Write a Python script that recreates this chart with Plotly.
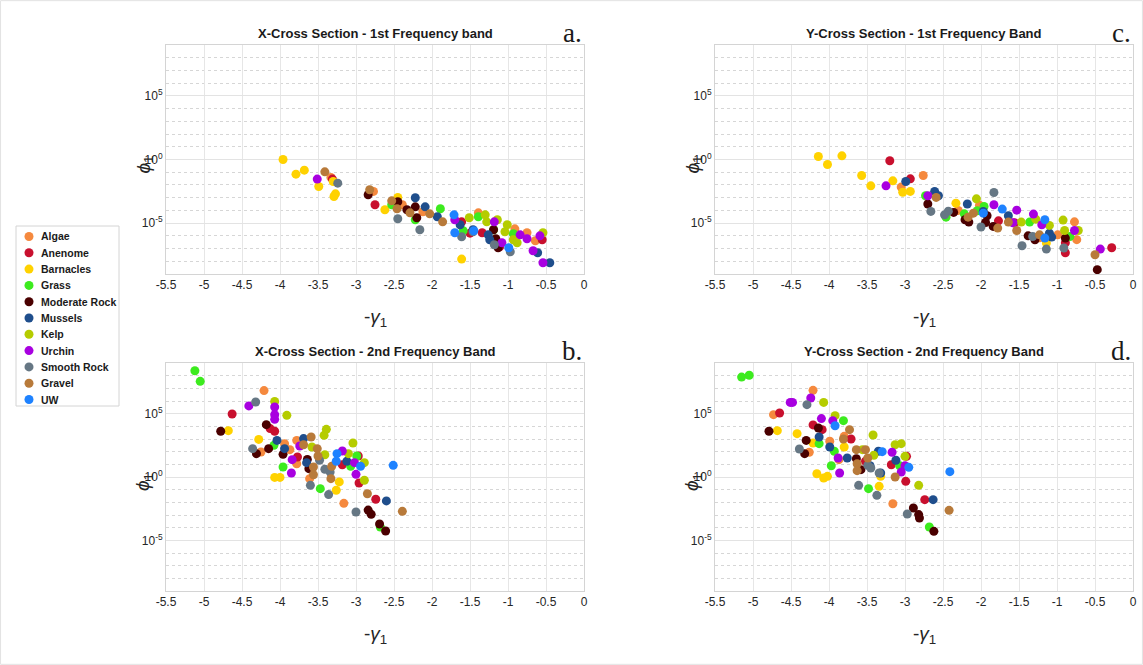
import plotly.graph_objects as go

CATEGORIES = ["Algae", "Anenome", "Barnacles", "Grass", "Moderate Rock", "Mussels",
              "Kelp", "Urchin", "Smooth Rock", "Gravel", "UW"]
COLORS = ["#F5893E", "#C8102E", "#FFD200", "#3CEB1E", "#4A0000", "#1F4E8C",
          "#B5CC00", "#A800E0", "#667784", "#B87A3A", "#1E82FF"]

XTICKS = [-5.5, -5, -4.5, -4, -3.5, -3, -2.5, -2, -1.5, -1, -0.5, 0]
XTICK_TEXT = ["-5.5", "-5", "-4.5", "-4", "-3.5", "-3", "-2.5", "-2", "-1.5", "-1", "-0.5", "0"]
YTICKS = [1e-5, 1, 1e5]
YTICK_TEXT = ["10<sup>-5</sup>", "10<sup>0</sup>", "10<sup>5</sup>"]
Y_DECADES = list(range(-9, 10))

TITLES = ["X-Cross Section - 1st Frequency band", "Y-Cross Section - 1st Frequency Band",
          "X-Cross Section - 2nd Frequency Band", "Y-Cross Section - 2nd Frequency Band"]
LETTERS = ["a.", "c.", "b.", "d."]

# -gamma_1 values (x) and log10(phi_1) values (y), per category, in CATEGORIES order
A_X = [[-3.33, -2.77, -2.39, -2.12, -1.39, -0.91, -0.75, -0.64],
       [-3.31, -2.75, -1.61, -1.50, -1.34, -1.11, -0.55],
       [-3.96, -3.79, -3.68, -3.49, -3.29, -3.27, -3.30, -2.62, -2.45, -1.61],
       [-2.53, -2.22, -1.89, -1.59, -1.39, -0.93, -1.19],
       [-2.84, -2.45, -2.33, -2.22, -2.20, -1.19, -1.16, -1.13],
       [-2.22, -2.09, -1.93, -1.63, -1.46, -1.26, -1.24, -0.61, -0.45],
       [-1.51, -1.30, -1.28, -1.14, -1.01, -1.04, -0.93, -0.88, -0.54],
       [-3.51, -1.70, -1.18, -1.08, -0.84, -0.75, -0.67, -0.58, -0.54],
       [-3.24, -2.45, -2.16, -1.61, -1.46, -1.18, -0.97],
       [-3.41, -2.82, -2.53, -2.46, -2.29, -2.03, -1.86],
       [-1.71, -1.70, -1.45, -0.99]]
A_LOGPHI = [[-1.41, -2.51, -3.56, -4.11, -4.19, -5.45, -5.76, -6.39],
            [-1.54, -3.56, -4.90, -5.79, -5.76, -6.86, -6.31],
            [0.0, -1.15, -0.84, -2.12, -2.91, -2.70, -1.73, -3.95, -2.98, -7.83],
            [-3.56, -4.74, -3.87, -5.60, -4.50, -5.84, -5.52],
            [-2.77, -3.32, -3.95, -3.72, -4.58, -5.52, -6.23, -6.94],
            [-3.01, -3.72, -4.50, -5.13, -5.52, -5.92, -6.31, -7.33, -8.12],
            [-4.58, -4.35, -4.90, -4.74, -5.13, -5.68, -6.31, -6.54, -5.76],
            [-1.54, -4.74, -4.90, -6.54, -5.92, -6.23, -7.17, -6.00, -8.12],
            [-1.86, -4.66, -5.52, -6.07, -5.68, -6.70, -7.25],
            [-0.97, -2.38, -3.25, -3.87, -4.19, -4.27, -4.90],
            [-4.35, -5.76, -5.60, -6.94]]

C_X = [[-2.76, -3.05, -2.30, -2.02, -0.77, -0.74, -0.99, -1.23],
       [-3.20, -2.93, -1.77, -1.56, -0.89, -0.89, -0.28],
       [-4.14, -4.02, -3.83, -3.57, -3.45, -3.16, -3.03, -2.93, -2.33, -1.14],
       [-2.73, -2.46, -2.22, -2.05, -1.96, -1.36, -0.83],
       [-2.70, -2.36, -2.21, -2.16, -1.94, -1.92, -1.84, -1.38, -1.29, -0.89, -0.47],
       [-2.99, -2.61, -2.56, -2.18, -1.97, -1.64, -1.10, -1.07],
       [-2.06, -1.47, -1.28, -1.10, -0.92, -0.90, -0.72],
       [-3.25, -2.70, -1.83, -1.53, -1.31, -1.20, -0.77, -0.43, -1.58],
       [-2.66, -2.43, -2.48, -1.83, -2.00, -1.46, -1.32, -1.14, -0.91],
       [-2.59, -2.17, -2.10, -1.78, -1.64, -1.53, -1.23, -0.50],
       [-1.97, -1.72, -1.16, -1.16]]
C_LOGPHI = [[-1.26, -2.17, -4.00, -3.60, -4.90, -6.30, -5.92, -6.15],
            [-0.10, -1.52, -4.82, -4.97, -6.54, -7.33, -6.94],
            [0.24, -0.39, 0.29, -1.26, -2.07, -1.68, -2.57, -2.51, -3.43, -6.57],
            [-2.85, -4.53, -4.27, -4.03, -3.69, -4.92, -6.05],
            [-3.50, -4.16, -4.74, -4.92, -4.95, -4.42, -5.26, -6.00, -6.31, -6.18, -8.66],
            [-1.73, -2.51, -2.85, -3.50, -4.08, -4.42, -5.79, -6.10],
            [-3.09, -4.92, -4.69, -5.18, -4.76, -5.58, -5.58],
            [-2.07, -2.85, -3.56, -3.98, -4.29, -5.13, -5.58, -7.04, -4.97],
            [-4.08, -4.06, -4.35, -2.59, -5.31, -6.78, -6.05, -7.04, -6.96],
            [-2.98, -4.53, -4.22, -5.39, -4.92, -5.58, -5.92, -7.49],
            [-4.22, -3.90, -4.74, -6.18]]

B_X = [[-4.21, -4.25, -3.94, -3.78, -3.78, -3.61, -3.16, -3.87],
       [-4.63, -4.13, -4.07, -3.77, -3.18, -2.96, -2.74, -2.97],
       [-4.68, -4.28, -4.07, -4.00, -3.22, -3.26],
       [-5.12, -5.05, -3.96, -4.08, -3.47, -3.07, -2.99, -2.68],
       [-4.78, -4.31, -4.18, -4.15, -3.96, -3.64, -3.62, -2.84, -2.80, -2.69, -2.61],
       [-4.04, -3.94, -3.69, -3.65, -3.12, -2.60],
       [-4.07, -3.91, -3.39, -3.42, -3.58, -3.41, -3.04, -3.10, -2.89, -2.89],
       [-4.41, -4.07, -4.07, -4.07, -3.84, -3.85, -3.74, -3.18, -3.02, -3.00],
       [-4.32, -4.36, -3.60, -3.48, -3.41, -3.36, -3.34, -3.00],
       [-3.59, -3.69, -3.51, -3.50, -3.56, -3.56, -3.32, -3.33, -2.85, -2.39],
       [-3.25, -3.26, -2.94, -2.51]]
B_LOGPHI = [[6.82, 1.97, 2.63, 2.89, 1.05, -0.13, -2.08, 2.16],
            [4.97, 3.82, 3.61, 1.58, 0.97, -0.47, -1.76, 1.66],
            [3.66, 2.97, -0.03, -0.03, -0.39, -1.05],
            [8.39, 7.55, 0.79, 2.50, -0.92, 0.84, 1.66, -3.95],
            [3.61, 1.84, 4.13, 2.24, 1.79, 1.39, 0.66, -2.61, -2.95, -3.71, -4.26],
            [2.89, 2.24, 3.03, 1.13, 1.24, -1.89],
            [5.97, 4.87, 3.76, 3.29, 2.37, 1.76, 2.68, 1.84, 1.13, -0.26],
            [5.61, 5.53, 4.92, 4.55, 1.37, 0.32, 2.45, 2.05, 1.13, 0.21],
            [5.92, 2.24, -0.66, 1.32, 0.61, -1.39, 0.39, -2.76],
            [3.16, 2.55, 2.24, 1.66, 0.79, 0.18, 0.84, -0.13, -1.32, -2.71],
            [1.84, 1.24, 0.84, 0.92]]

D_X = [[-4.73, -4.21, -4.26, -3.99, -3.80, -3.87, -3.16],
       [-4.65, -4.21, -4.09, -3.71, -3.52, -3.18, -2.99, -2.98, -2.74],
       [-4.68, -4.42, -4.21, -4.16, -4.07, -4.02, -3.80, -3.32, -3.34],
       [-5.15, -5.05, -4.13, -3.97, -3.93, -3.81, -3.48, -3.07, -2.68],
       [-4.79, -4.30, -4.32, -4.14, -3.64, -3.58, -2.89, -2.82, -2.81, -2.62],
       [-4.13, -3.99, -3.76, -3.12, -2.63, -3.35, -3.46, -3.32],
       [-4.07, -3.92, -3.42, -3.41, -3.13, -3.05, -3.00, -2.82, -3.56],
       [-4.51, -4.48, -4.24, -4.10, -3.95, -3.88, -3.86, -3.17, -3.05, -3.00],
       [-4.29, -4.39, -3.61, -3.49, -3.37, -3.34, -2.97, -3.45],
       [-3.73, -3.81, -3.64, -3.52, -3.63, -3.63, -3.13, -2.42, -3.49],
       [-3.92, -3.30, -2.95, -2.41]]
D_LOGPHI = [[4.92, 6.84, 1.95, 2.82, 3.21, 1.37, -2.11],
            [5.05, 4.11, 3.74, 3.00, 1.24, 0.97, -0.34, 1.63, -1.79],
            [3.66, 3.42, 2.68, 0.26, -0.08, 0.05, 2.37, 0.05, -0.74],
            [7.89, 8.03, 2.63, 0.89, 2.03, 4.45, -0.92, 0.89, -3.95],
            [3.61, 2.89, 1.84, 3.87, 1.45, 0.58, -2.45, -2.97, -3.24, -4.29],
            [3.16, 2.37, 1.50, 1.32, -1.79, 2.03, 0.89, 0.32],
            [5.89, 4.84, 3.32, 1.71, 2.55, 2.63, 1.63, -0.66, 2.16],
            [5.89, 5.89, 6.24, 4.61, 4.45, 1.50, 0.32, 1.95, 0.39, 0.89],
            [5.71, 2.21, -0.66, 0.92, -1.45, 0.32, -2.92, 0.71],
            [3.74, 3.00, 2.16, 2.16, 1.05, 0.50, 0.00, -2.63, 1.50],
            [4.05, 2.00, 0.76, 0.42]]

PANELS = [(A_X, A_LOGPHI), (C_X, C_LOGPHI), (B_X, B_LOGPHI), (D_X, D_LOGPHI)]

# The page body margin is removed (post_script below), so the figure fills the window.
W, H = 1143, 665


def px(xp):
    return xp / W


def py(yp):
    return 1 - yp / H


# plot-area boxes in window pixels: (left, right, top, bottom)
BOXES = [(166, 584, 45, 274), (715, 1133, 45, 274), (166, 584, 363, 591), (715, 1133, 363, 591)]
FONT = "Liberation Sans, Arial, sans-serif"

fig = go.Figure()
for p, (xs, ls) in enumerate(PANELS):
    sfx = "" if p == 0 else str(p + 1)
    for c, name in enumerate(CATEGORIES):
        fig.add_trace(go.Scatter(
            x=xs[c], y=[10 ** v for v in ls[c]], mode="markers", name=name,
            showlegend=False, hoverinfo="x+y+name",
            marker=dict(color=COLORS[c], size=9, line=dict(width=0)),
            xaxis="x" + sfx, yaxis="y" + sfx))

# custom legend (entries drawn on a hidden axis)
LEG = (16, 119, 226, 406)
LEG_Y0, LEG_STEP = 236.5, 16.3
idx = list(range(len(CATEGORIES)))
fig.add_trace(go.Scatter(x=[0] * len(CATEGORIES), y=idx, mode="markers", showlegend=False,
                         hoverinfo="skip", marker=dict(color=COLORS, size=9),
                         xaxis="x5", yaxis="y5"))

layout = dict(width=W, height=H, margin=dict(l=0, r=0, t=0, b=0, autoexpand=False),
              paper_bgcolor="white", plot_bgcolor="white", showlegend=False,
              template="none")
annotations = []
for p, (l, r, t, b) in enumerate(BOXES):
    sfx = "" if p == 0 else str(p + 1)
    layout["xaxis" + sfx] = dict(
        domain=[px(l), px(r)], anchor="y" + sfx, range=[-5.5, 0], automargin=False,
        tickvals=XTICKS, ticktext=XTICK_TEXT, showgrid=True, gridcolor="#E6E6E6",
        gridwidth=1, zeroline=False, showline=True, linecolor="#D4D4D4", mirror=True,
        ticks="", tickfont=dict(family=FONT, size=12, color="#262626"))
    layout["yaxis" + sfx] = dict(
        domain=[py(b), py(t)], anchor="x" + sfx, type="log", range=[-9, 9], automargin=False,
        tickvals=YTICKS, ticktext=YTICK_TEXT, showgrid=True, gridcolor="#E3E3E3",
        zeroline=False, showline=True, linecolor="#D4D4D4", mirror=True, ticks="",
        tickfont=dict(family=FONT, size=12, color="#262626"),
        minor=dict(tickvals=[10.0 ** k for k in Y_DECADES], showgrid=True,
                   gridcolor="#D6D6D6", griddash="dot", gridwidth=1))
    cx = (l + r) / 2
    annotations.append(dict(x=px(cx), y=py(t - 11), xref="paper", yref="paper",
                            text="<b>" + TITLES[p] + "</b>", showarrow=False,
                            font=dict(family=FONT, size=13, color="#1a1a1a"),
                            xanchor="center", yanchor="middle"))
    annotations.append(dict(x=px(r - 12), y=py(t - 12), xref="paper", yref="paper",
                            text=LETTERS[p], showarrow=False,
                            font=dict(family="Liberation Serif, Times New Roman, serif",
                                      size=27, color="#1a1a1a"),
                            xanchor="center", yanchor="middle"))
    annotations.append(dict(x=px(cx), y=py(b + 44), xref="paper", yref="paper",
                            text="-<i>γ</i><sub>1</sub>", showarrow=False,
                            font=dict(family=FONT, size=19, color="#262626"),
                            xanchor="center", yanchor="middle"))
    annotations.append(dict(x=px(l - 22), y=py((t + b) / 2 + 5), xref="paper",
                            yref="paper", text="<i>ϕ</i><sub>1</sub>", showarrow=False,
                            textangle=-90, font=dict(family=FONT, size=19, color="#262626"),
                            xanchor="center", yanchor="middle"))

for i, name in enumerate(CATEGORIES):
    annotations.append(dict(x=px(39), y=py(LEG_Y0 + LEG_STEP * i), xref="paper", yref="paper",
                            text="<b>" + name + "</b>", showarrow=False,
                            font=dict(family=FONT, size=10.5, color="#1a1a1a"),
                            xanchor="left", yanchor="middle"))

lx0, lx1, ly0, ly1 = LEG
layout["xaxis5"] = dict(domain=[px(lx0), px(lx1)], anchor="y5", range=[-13, 90],
                        visible=False, fixedrange=True)
layout["yaxis5"] = dict(domain=[py(ly1), py(ly0)], anchor="x5",
                        range=[(ly1 - LEG_Y0) / LEG_STEP, (ly0 - LEG_Y0) / LEG_STEP],
                        visible=False, fixedrange=True)
layout["annotations"] = annotations
layout["shapes"] = [
    dict(type="rect", xref="paper", yref="paper", x0=px(lx0), x1=px(lx1),
         y0=py(ly1), y1=py(ly0), line=dict(color="#D4D4D4", width=1),
         fillcolor="rgba(0,0,0,0)", layer="below"),
    dict(type="rect", xref="paper", yref="paper", x0=0.0005, x1=0.9995, y0=0.001, y1=0.999,
         line=dict(color="#E2E2E2", width=1), fillcolor="rgba(0,0,0,0)", layer="below"),
]
fig.update_layout(**layout)
fig.write_html("out.html", config={"displayModeBar": False},
               post_script="document.body.style.margin='0px';"
                           "document.body.style.overflow='hidden';")
